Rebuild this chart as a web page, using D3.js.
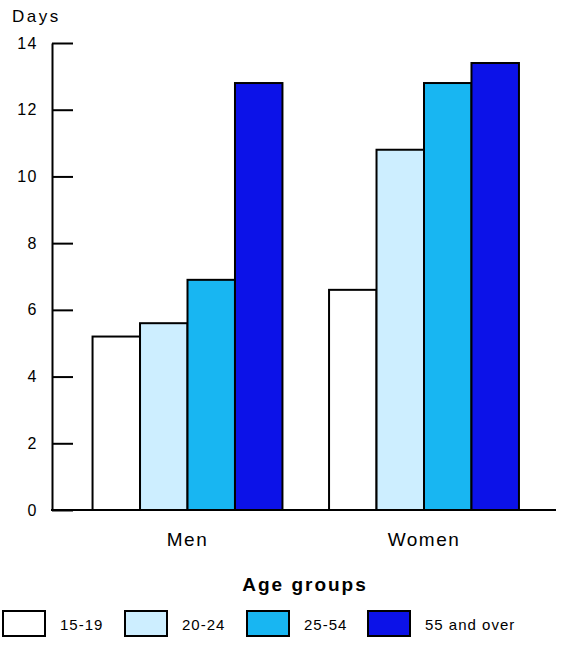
<!DOCTYPE html>
<html><head><meta charset="utf-8">
<script src="https://cdn.jsdelivr.net/npm/d3@7"></script>
<style>body{margin:0;background:#fff;} svg{display:block;font-family:"Liberation Sans",Arial,sans-serif;}</style>
</head><body>
<script>
const categories = ["Men", "Women"];
const ageGroups = ["15-19", "20-24", "25-54", "55 and over"];
const men = [5.2, 5.6, 6.9, 12.8];
const women = [6.6, 10.8, 12.8, 13.4];
const yTicks = [0, 2, 4, 6, 8, 10, 12, 14];
const colors = ["#ffffff", "#cdeeff", "#18b6f2", "#0c12e8"];

const W = 584, H = 645;
const svg = d3.select("body").append("svg").attr("width", W).attr("height", H);

const y = d3.scaleLinear().domain([0, 14]).range([510, 43]);
const x0 = d3.scaleBand().domain(categories).range([69.25, 542.25]).paddingInner(0.197).paddingOuter(0.0985);
const x1 = d3.scaleBand().domain(ageGroups).range([0, x0.bandwidth()]);

const data = categories.map((c, i) => ({cat: c, vals: (i === 0 ? men : women)}));

const g = svg.append("g");
data.forEach(d => {
  g.selectAll(null).data(d.vals).enter().append("rect")
    .attr("x", (v, j) => x0(d.cat) + x1(ageGroups[j]))
    .attr("y", v => y(v))
    .attr("width", x1.bandwidth())
    .attr("height", v => y(0) - y(v))
    .attr("fill", (v, j) => colors[j])
    .attr("stroke", "#000").attr("stroke-width", 2);
});

// y axis
const axis = svg.append("g").attr("transform", "translate(52,0)")
  .call(d3.axisLeft(y).tickValues(yTicks).tickSizeInner(-21).tickSizeOuter(0).tickPadding(14).tickFormat(d3.format("d")));
axis.select(".domain").attr("stroke", "#000").attr("stroke-width", 2);
axis.selectAll(".tick line").attr("stroke", "#000").attr("stroke-width", 2);
axis.selectAll(".tick text").attr("font-size", 16).attr("letter-spacing", 1.5).attr("fill", "#000")
  .attr("font-family", "Liberation Sans, Arial, sans-serif");

// baseline
svg.append("line").attr("x1", 51).attr("x2", 556).attr("y1", y(0)).attr("y2", y(0))
  .attr("stroke", "#000").attr("stroke-width", 2);

svg.append("text").attr("x", 12).attr("y", 22).attr("font-size", 17).attr("letter-spacing", 2.5).text("Days");

// category labels
svg.selectAll(".cat").data(categories).enter().append("text")
  .attr("x", d => x0(d) + x0.bandwidth() / 2).attr("y", 546)
  .attr("text-anchor", "middle").attr("font-size", 19).attr("letter-spacing", 1.5).text(d => d);

svg.append("text").attr("x", 305).attr("y", 591).attr("text-anchor", "middle")
  .attr("font-size", 19).attr("letter-spacing", 2).attr("font-weight", "bold").text("Age groups");

// legend
const legX = [3, 125, 247, 368];
const leg = svg.selectAll(".leg").data(ageGroups).enter().append("g")
  .attr("transform", (d, i) => `translate(${legX[i]},611)`);
leg.append("rect").attr("width", 42).attr("height", 25)
  .attr("fill", (d, i) => colors[i]).attr("stroke", "#000").attr("stroke-width", 2);
leg.append("text").attr("x", 57).attr("y", 19).attr("font-size", 15).attr("letter-spacing", 1).text(d => d);
</script>
</body></html>
